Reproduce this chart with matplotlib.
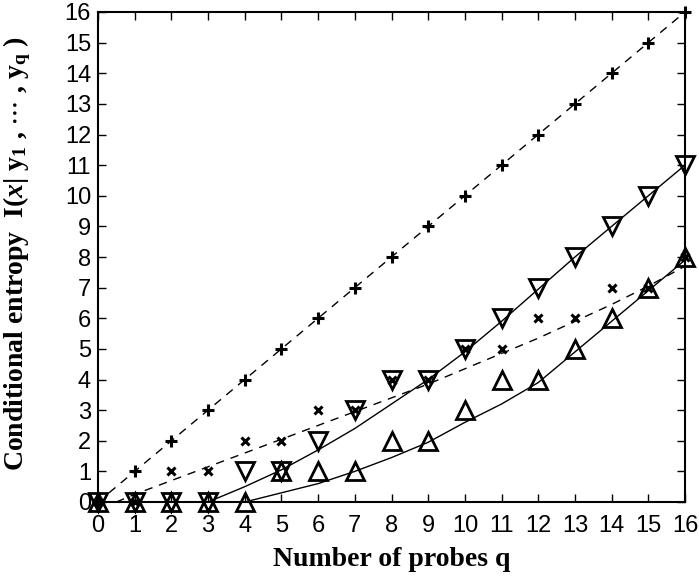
import numpy as np
import matplotlib.pyplot as plt

plt.rcParams['mathtext.fontset'] = 'custom'
plt.rcParams['mathtext.rm'] = 'Liberation Serif:bold'
plt.rcParams['mathtext.it'] = 'Liberation Serif:italic:bold'
plt.rcParams['mathtext.bf'] = 'Liberation Serif:bold'

q = np.arange(17)

# measured points
plus_vals = [0, 1, 2, 3, 4, 5, 6, 7, 8, 9, 10, 11, 12, 13, 14, 15, 16]
cross_vals = [0, 0, 1, 1, 2, 2, 3, 3, 4, 4, 5, 5, 6, 6, 7, 7, 8]
down_vals = [0, 0, 0, 0, 1, 1, 2, 3, 4, 4, 5, 6, 7, 8, 9, 10, 11]
up_vals = [0, 0, 0, 0, 0, 1, 1, 1, 2, 2, 3, 4, 4, 5, 6, 7, 8]

# reference curves
diag_x = [0.3, 16]
diag_y = [0.3, 16]
half_x = [0.5, 1, 2, 3, 4, 5, 6, 7, 8, 9, 10, 11, 12, 13, 14, 15, 16]
half_y = [0, 0.25, 0.7, 1.15, 1.6, 2.05, 2.5, 2.95, 3.4, 3.85, 4.35, 4.85, 5.35, 5.9, 6.45, 7.05, 7.7]
down_cx = [3, 4, 5, 6, 7, 8, 9, 10, 11, 12, 13, 14, 15, 16]
down_cy = [0, 0.5, 1.05, 1.7, 2.4, 3.2, 4.0, 4.9, 5.9, 6.95, 8.0, 9.0, 10.0, 11.0]
up_cx = [4, 5, 6, 7, 8, 9, 10, 11, 12, 13, 14, 15, 16]
up_cy = [0, 0.3, 0.6, 1.0, 1.45, 1.95, 2.6, 3.2, 3.9, 4.9, 5.9, 6.9, 7.9]

fig = plt.figure(figsize=(6.99, 5.76), dpi=100)
ax = fig.add_axes([98 / 699, 74 / 576, 587 / 699, 490 / 576])

ax.plot(diag_x, diag_y, 'k--', lw=1, dashes=(6, 5))
ax.plot(half_x, half_y, 'k--', lw=1, dashes=(6, 5))
ax.plot(down_cx, down_cy, 'k-', lw=1)
ax.plot(up_cx, up_cy, 'k-', lw=1)

ax.plot(q, plus_vals, 'k+', ms=8, mew=2.2, clip_on=False)
ax.plot(q, cross_vals, 'kx', ms=6, mew=2.2, clip_on=False)
ax.plot(q, down_vals, 'v', ms=12.5, mfc='none', mec='k', mew=2, clip_on=False)
ax.plot(q, up_vals, '^', ms=12.5, mfc='none', mec='k', mew=2, clip_on=False)

ax.set_xlim(0, 16)
ax.set_ylim(0, 16)
ax.set_xticks(range(17))
ax.set_yticks(range(17))
ax.tick_params(direction='in', top=True, right=True, length=6, width=1,
               labelsize=17)
ax.tick_params(axis='x', pad=9)
ax.tick_params(axis='y', pad=5)
for lbl in ax.get_xticklabels() + ax.get_yticklabels():
    lbl.set_family('Liberation Sans')
for s in ax.spines.values():
    s.set_linewidth(1.5)

ax.set_xlabel('Number of probes q', family='Liberation Serif',
              fontweight='bold', fontsize=20)
ax.set_ylabel(r'Conditional entropy  I($\mathit{x}$| y$_\mathregular{1}$ , $\cdots$ , y$_\mathregular{q}$ )',
              family='Liberation Serif', fontweight='bold', fontsize=20)
ax.xaxis.set_label_coords(0.5, -0.092)
ax.yaxis.set_label_coords(-0.111, 0.508)

fig.savefig('out.png', dpi=100)
